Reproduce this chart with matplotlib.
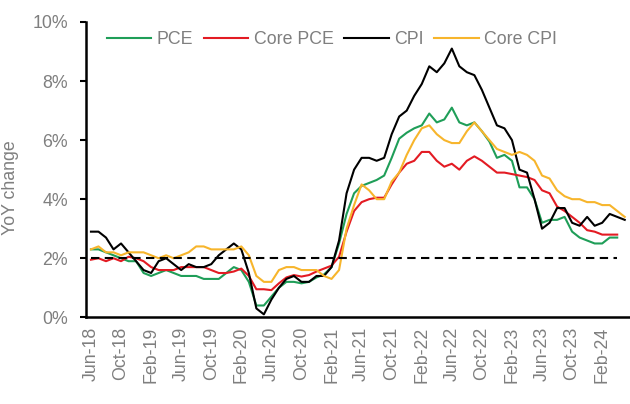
import matplotlib
matplotlib.use("Agg")
import matplotlib.pyplot as plt

plt.rcParams['font.family'] = ['Liberation Sans', 'DejaVu Sans']

months = ["Jun-18","Jul-18","Aug-18","Sep-18","Oct-18","Nov-18","Dec-18",
          "Jan-19","Feb-19","Mar-19","Apr-19","May-19","Jun-19","Jul-19","Aug-19","Sep-19","Oct-19","Nov-19","Dec-19",
          "Jan-20","Feb-20","Mar-20","Apr-20","May-20","Jun-20","Jul-20","Aug-20","Sep-20","Oct-20","Nov-20","Dec-20",
          "Jan-21","Feb-21","Mar-21","Apr-21","May-21","Jun-21","Jul-21","Aug-21","Sep-21","Oct-21","Nov-21","Dec-21",
          "Jan-22","Feb-22","Mar-22","Apr-22","May-22","Jun-22","Jul-22","Aug-22","Sep-22","Oct-22","Nov-22","Dec-22",
          "Jan-23","Feb-23","Mar-23","Apr-23","May-23","Jun-23","Jul-23","Aug-23","Sep-23","Oct-23","Nov-23","Dec-23",
          "Jan-24","Feb-24","Mar-24","Apr-24","May-24"]

pce = [2.3, 2.3, 2.2, 2.1, 2.0, 1.9, 1.9, 1.5, 1.4, 1.5, 1.6, 1.5, 1.4, 1.4, 1.4, 1.3, 1.3, 1.3, 1.5,
       1.7, 1.6, 1.2, 0.4, 0.4, 0.7, 1.0, 1.2, 1.2, 1.15, 1.2, 1.35, 1.45, 1.7, 2.5, 3.5, 4.2,
       4.45, 4.55, 4.65, 4.8, 5.4, 6.05, 6.25, 6.4, 6.5, 6.9, 6.6, 6.7, 7.1, 6.6, 6.5, 6.6, 6.3,
       5.95, 5.4, 5.5, 5.3, 4.4, 4.4, 4.0, 3.2, 3.3, 3.3, 3.4, 2.9, 2.7, 2.6, 2.5, 2.5, 2.7, 2.7]

core_pce = [1.95, 2.0, 1.9, 2.0, 1.9, 2.05, 2.0, 1.9, 1.7, 1.6, 1.6, 1.6, 1.7, 1.7, 1.7, 1.7, 1.6, 1.5, 1.5,
            1.55, 1.65, 1.4, 0.95, 0.95, 0.92, 1.15, 1.35, 1.43, 1.38, 1.43, 1.55, 1.65, 1.75, 2.05, 2.9, 3.6,
            3.9, 4.0, 4.05, 4.05, 4.5, 4.9, 5.2, 5.3, 5.6, 5.6, 5.3, 5.1, 5.2, 5.0, 5.3, 5.45, 5.3,
            5.1, 4.9, 4.9, 4.85, 4.8, 4.75, 4.65, 4.3, 4.2, 3.75, 3.6, 3.4, 3.2, 2.95, 2.9, 2.8, 2.8, 2.8]

cpi = [2.9, 2.9, 2.7, 2.3, 2.5, 2.2, 1.9, 1.6, 1.5, 1.9, 2.0, 1.8, 1.6, 1.8, 1.7, 1.7, 1.8, 2.1, 2.3,
       2.5, 2.3, 1.5, 0.3, 0.1, 0.6, 1.0, 1.3, 1.4, 1.2, 1.2, 1.4, 1.4, 1.7, 2.6, 4.2, 5.0,
       5.4, 5.4, 5.3, 5.4, 6.2, 6.8, 7.0, 7.5, 7.9, 8.5, 8.3, 8.6, 9.1, 8.5, 8.3, 8.2, 7.7,
       7.1, 6.5, 6.4, 6.0, 5.0, 4.9, 4.0, 3.0, 3.2, 3.7, 3.7, 3.2, 3.1, 3.4, 3.1, 3.2, 3.5, 3.4, 3.3]

core_cpi = [2.3, 2.4, 2.2, 2.2, 2.1, 2.2, 2.2, 2.2, 2.1, 2.0, 2.1, 2.0, 2.1, 2.2, 2.4, 2.4, 2.3, 2.3, 2.3,
            2.3, 2.4, 2.1, 1.4, 1.2, 1.2, 1.6, 1.7, 1.7, 1.6, 1.6, 1.6, 1.4, 1.3, 1.6, 3.0, 3.8,
            4.5, 4.3, 4.0, 4.0, 4.6, 4.9, 5.5, 6.0, 6.4, 6.5, 6.2, 6.0, 5.9, 5.9, 6.3, 6.6, 6.3,
            6.0, 5.7, 5.6, 5.5, 5.6, 5.5, 5.3, 4.8, 4.7, 4.3, 4.1, 4.0, 4.0, 3.9, 3.9, 3.8, 3.8, 3.6, 3.4]

target = [2.0] * len(pce)

GRAY = '#7f7f7f'
FS = 12.8

fig = plt.figure(figsize=(6.3, 4.04), dpi=100)
ax = fig.add_axes([86/630, (404-317.3)/404, 1 - 86/630, (317.3-22)/404])

ax.plot(range(len(pce)), pce, color='#1f9e58', lw=1.5, label='PCE')
ax.plot(range(len(core_pce)), core_pce, color='#e31b23', lw=1.5, label='Core PCE')
ax.plot(range(len(cpi)), cpi, color='#000000', lw=1.5, label='CPI')
ax.plot(range(len(core_cpi)), core_cpi, color='#f7b52c', lw=1.5, label='Core CPI')
ax.plot(range(len(target)), target, color='black', lw=1.5, ls=(0, (4, 2.6)))

ax.set_xlim(-0.66, 71.7)
ax.set_ylim(0, 10)
ax.set_yticks(range(0, 11, 2))
ax.set_yticklabels([f"{v}%" for v in range(0, 11, 2)])
ticks = list(range(0, len(months), 4))
ax.set_xticks(ticks)
ax.set_xticklabels([months[i] for i in ticks], rotation=90)

for s in ['top', 'right']:
    ax.spines[s].set_visible(False)
for s in ['left', 'bottom']:
    ax.spines[s].set_linewidth(1.8)
    ax.spines[s].set_color('black')

ax.tick_params(axis='y', length=4.5, width=1.5, color='black', labelcolor=GRAY, labelsize=FS, pad=8.5)
ax.tick_params(axis='x', length=0, labelcolor=GRAY, labelsize=FS, pad=7)

ax.set_ylabel('YoY change', color=GRAY, fontsize=FS)
ax.yaxis.set_label_coords(-0.123, 0.44)

leg = ax.legend(ncol=4, frameon=False, loc='center left',
                bbox_to_anchor=(107/630, 1 - 40/404), bbox_transform=fig.transFigure,
                borderaxespad=0, borderpad=0, handlelength=2.5, handletextpad=0.3,
                columnspacing=0.6, fontsize=FS)
for t in leg.get_texts():
    t.set_color(GRAY)

fig.savefig('out.png', dpi=100)
